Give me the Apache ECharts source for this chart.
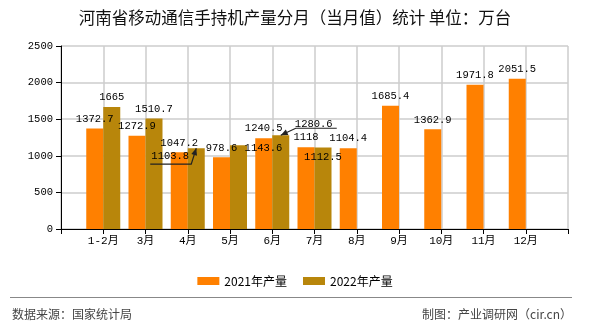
<!DOCTYPE html>
<html>
<head>
<meta charset="utf-8">
<script src="https://cdn.jsdelivr.net/npm/echarts@6/dist/echarts.min.js"></script>
<style>html,body{margin:0;padding:0;background:#fff;}#c{width:590px;height:330px;}</style>
</head>
<body>
<div id="c"></div>
<script>
var categories = ['', '1-2月', '3月', '4月', '5月', '6月', '7月', '8月', '9月', '10月', '11月', '12月', ''];
var values2021 = [null, 1372.7, 1272.9, 1047.2, 978.6, 1240.5, 1118, 1104.4, 1685.4, 1362.9, 1971.8, 2051.5, null];
var values2022 = [null, 1665, 1510.7, 1103.8, 1143.6, 1280.6, 1112.5, null, null, null, null, null, null];
var seriesNames = ['2021年产量', '2022年产量'];
var yTicks = { min: 0, max: 2500, interval: 500 };

// label displacement (annotation layout) for 2022 series, keyed by category
var labelMoves2022 = {
  '4月': { dx: -26, dy: 18 },
  '5月': { dx: 25, dy: 12 },
  '6月': { dx: 33, dy: -2 },
  '7月': { dx: 0, dy: 19 }
};
// pointer arrows (pixel offsets of the guide polyline relative to the bar-top anchor)
var arrowGuides2022 = {
  '4月': [[-46, 16], [-5, 16]],
  '6月': [[56, -7], [15, -7]]
};

var monoFont = '"Liberation Mono", "DejaVu Sans Mono", monospace';
var cjkFont = '"Noto Sans CJK SC", "Noto Sans", sans-serif';
var BAR_W = 17;

function buildData(vals) {
  return vals.map(function (v) { return v === null ? '-' : v; });
}

var chart = echarts.init(document.getElementById('c'), null, { renderer: 'canvas' });
var labelStyle = {
  show: true, position: 'top', distance: 4,
  color: '#000', fontFamily: monoFont, fontSize: 10.5
};
var gridColor = '#cccccc';
var baseGraphics = [
  { type: 'line', shape: { x1: 10, y1: 297.5, x2: 572, y2: 297.5 }, style: { stroke: '#888', lineWidth: 1 } },
  { type: 'text', left: 12, top: 308, style: { text: '数据来源：国家统计局', fontFamily: cjkFont, fontSize: 12, fill: '#444' } },
  { type: 'text', right: 18, top: 308, style: { text: '制图：产业调研网（cir.cn）', fontFamily: cjkFont, fontSize: 12, fill: '#444' } }
];
chart.setOption({
  animation: false,
  backgroundColor: '#fff',
  title: {
    text: '河南省移动通信手持机产量分月（当月值）统计 单位：万台',
    left: 'center', top: 9, padding: 0,
    textStyle: { fontFamily: cjkFont, fontSize: 16.5, fontWeight: 'normal', color: '#111' }
  },
  legend: {
    data: seriesNames,
    left: 'center', top: 270,
    itemWidth: 22, itemHeight: 8, itemGap: 16,
    icon: 'rect',
    textStyle: { fontFamily: cjkFont, fontSize: 12, color: '#000' }
  },
  grid: { left: 61, right: 22, top: 46, bottom: 101, containLabel: false },
  xAxis: {
    type: 'category', data: categories, boundaryGap: false,
    axisLine: { lineStyle: { color: '#000', width: 1 } },
    axisTick: { show: true, interval: 0, length: 5, lineStyle: { color: '#000' } },
    axisLabel: { interval: 0, margin: 7, color: '#000', fontFamily: monoFont + ', ' + cjkFont, fontSize: 11 },
    splitLine: { show: true, interval: 0, lineStyle: { color: gridColor, width: 1.5, type: 'solid' } }
  },
  yAxis: {
    type: 'value', min: yTicks.min, max: yTicks.max, interval: yTicks.interval,
    axisLine: { show: true, lineStyle: { color: '#000', width: 1 } },
    axisTick: { show: true, length: 5, lineStyle: { color: '#000' } },
    axisLabel: { margin: 8, color: '#000', fontFamily: monoFont, fontSize: 10.5,
      formatter: function (v) { return String(v); } },
    splitLine: { show: true, lineStyle: { color: gridColor, width: 1.5, type: 'solid' } }
  },
  series: [
    {
      name: seriesNames[0], type: 'bar', data: buildData(values2021),
      barWidth: BAR_W, barGap: '0%',
      itemStyle: { color: '#FF8000' },
      label: labelStyle
    },
    {
      name: seriesNames[1], type: 'bar', data: buildData(values2022),
      barWidth: BAR_W, barGap: '0%',
      itemStyle: { color: '#B8860B' },
      label: labelStyle,
      labelLayout: function (p) {
        var m = labelMoves2022[categories[p.dataIndex]];
        if (m) return { dx: m.dx, dy: m.dy };
        return {};
      }
    }
  ],
  graphic: baseGraphics
});

// annotation arrows anchored on the 2022 bar tops via the chart's own scales
var arrowGraphics = [];
Object.keys(arrowGuides2022).forEach(function (cat) {
  var idx = categories.indexOf(cat);
  var p = chart.convertToPixel({ xAxisIndex: 0, yAxisIndex: 0 }, [idx, values2022[idx]]);
  var tip = [p[0] + BAR_W / 2, p[1]];
  var g = arrowGuides2022[cat];
  var pts = g.map(function (o) { return [tip[0] + o[0], tip[1] + o[1]]; });
  pts.push(tip);
  arrowGraphics.push({ type: 'polyline', silent: true, z: 10,
    shape: { points: pts }, style: { stroke: '#222', lineWidth: 1.2, fill: null } });
  var prev = pts[pts.length - 2];
  var ang = Math.atan2(tip[1] - prev[1], tip[0] - prev[0]);
  var L = 7, Wd = 3;
  var bx = tip[0] - L * Math.cos(ang), by = tip[1] - L * Math.sin(ang);
  var nx = -Math.sin(ang) * Wd, ny = Math.cos(ang) * Wd;
  arrowGraphics.push({ type: 'polygon', silent: true, z: 10,
    shape: { points: [tip, [bx + nx, by + ny], [bx - nx, by - ny]] }, style: { fill: '#222' } });
});
chart.setOption({ graphic: baseGraphics.concat(arrowGraphics) });
</script>
</body>
</html>
